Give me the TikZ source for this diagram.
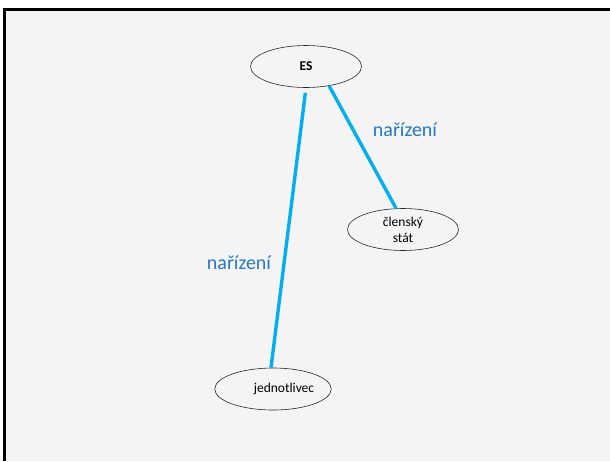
\documentclass[tikz,border=0pt]{standalone}
\usepackage{fontspec}
\setmainfont{Carlito}
\usetikzlibrary{shapes.geometric}
\definecolor{bgpanel}{HTML}{F4F4F4}
\definecolor{linkcyan}{HTML}{00B0F0}
\definecolor{labelblue}{HTML}{2478C4}
\tikzset{
  oval/.style={ellipse, draw=black!85, line width=0.6pt, minimum width=111pt, minimum height=42pt, inner sep=0pt, align=center, font=\fontsize{13.5}{16}\selectfont},
  link/.style={draw=linkcyan, line width=3.4pt},
  rel/.style={text=labelblue, font=\fontsize{20}{24}\selectfont, inner sep=0pt}
}
\begin{document}
\begin{tikzpicture}[x=1pt,y=1pt]
\useasboundingbox (0,0) rectangle (610,-461);
\fill[white] (0,0) rectangle (610,-461);
\fill[bgpanel] (4.5,-9.5) rectangle (610,-461);
\draw[black, line width=3pt] (4.5,-461) -- (4.5,-9.5) -- (610,-9.5);

\node[oval] (es) at (306,-66.5) {\textbf{ES}};
\node[oval] (cs) at (403,-229.5) {členský\\stát};
\node[oval] (jed) at (273,-389) {\hspace*{22pt}jednotlivec};

\draw[link, shorten <=5pt] (es.-90.5) -- ([xshift=-2pt]jed.north);
\draw[link] (es.-40) -- ([xshift=-7pt]cs.north);

\node[rel] (r1) at (405,-130) {nařízení};
\node[rel] (r2) at (239,-263) {nařízení};
\end{tikzpicture}
\end{document}
